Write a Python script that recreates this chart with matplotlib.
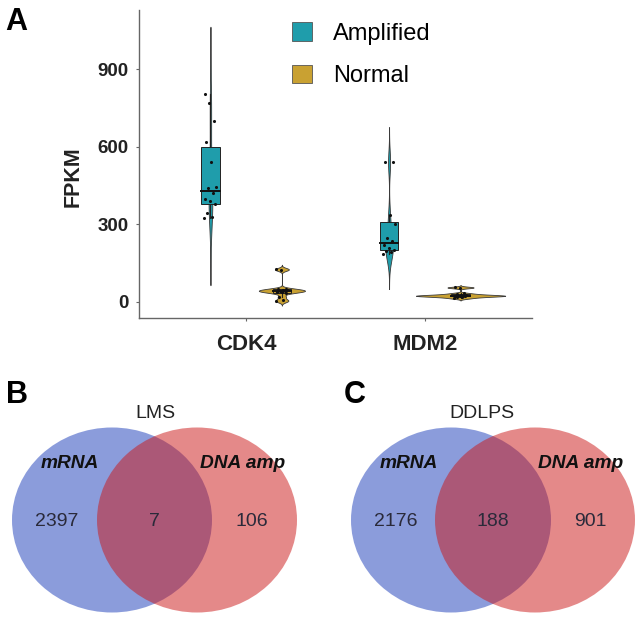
import numpy as np
import matplotlib
matplotlib.use("Agg")
import matplotlib.pyplot as plt
from matplotlib.patches import Ellipse, Patch, Rectangle

plt.rcParams['font.family'] = ['Liberation Sans', 'DejaVu Sans']

# ---------------- data ----------------
genes = ['CDK4', 'MDM2']
groups = ['Amplified', 'Normal']
cdk4_amp = [326, 330, 345, 378, 390, 399, 420, 440, 446, 543, 620, 700, 771, 804]
cdk4_norm = [2, 8, 20, 34, 38, 40, 42, 43, 45, 47, 49, 52, 124, 128]
mdm2_amp = [186, 195, 199, 200, 209, 222, 236, 249, 302, 337, 541, 541]
mdm2_norm = [14, 18, 20, 22, 23, 24, 24, 25, 26, 28, 30, 34, 55, 57]
y_ticks = [0, 300, 600, 900]

venn_titles = ['LMS', 'DDLPS']
venn_set_labels = ['mRNA', 'DNA amp']
lms_counts = [2397, 7, 106]
ddlps_counts = [2176, 188, 901]

# ---------------- style ----------------
group_colors = {'Amplified': '#1f9dab', 'Normal': '#c9a132'}
venn_colors = ['#193bb9', '#cb1515']
dodge = 0.2
box_w = 0.105
max_half = 0.25

W, H = 640, 624
fig = plt.figure(figsize=(W / 100, H / 100), dpi=100)


def fx(px):
    return px / W


def fy(py):
    return 1 - py / H


# ---------------- panel A ----------------
ax = fig.add_axes([fx(139), fy(318), fx(532) - fx(139), fy(10) - fy(318)])

series = {('CDK4', 'Amplified'): cdk4_amp, ('CDK4', 'Normal'): cdk4_norm,
          ('MDM2', 'Amplified'): mdm2_amp, ('MDM2', 'Normal'): mdm2_norm}


def bw_nrd0(x):
    x = np.asarray(x, float)
    sd = np.std(x, ddof=1)
    q75, q25 = np.percentile(x, [75, 25])
    lo = min(sd, (q75 - q25) / 1.34)
    if lo <= 0:
        lo = sd
    return 0.9 * lo * len(x) ** -0.2


def kde(x):
    x = np.asarray(x, float)
    bw = bw_nrd0(x)
    g = np.linspace(x.min() - 3 * bw, x.max() + 3 * bw, 512)
    d = np.exp(-0.5 * ((g[:, None] - x[None, :]) / bw) ** 2).sum(1) / (len(x) * bw * np.sqrt(2 * np.pi))
    return g, d


dens = {k: kde(v) for k, v in series.items()}
dmax = max(d.max() for g, d in dens.values())

for gi, gene in enumerate(genes):
    for si, grp in enumerate(groups):
        vals = np.asarray(series[(gene, grp)], float)
        pos = gi + 1 + (-dodge if si == 0 else dodge)
        col = group_colors[grp]
        g, d = dens[(gene, grp)]
        hw = max_half * d / dmax
        ax.fill_betweenx(g, pos - hw, pos + hw, facecolor=col, edgecolor='#3a3a3a',
                         linewidth=0.6, zorder=2)
        q1, med, q3 = np.percentile(vals, [25, 50, 75])
        iqr = q3 - q1
        lo = vals[vals >= q1 - 1.5 * iqr].min()
        hi = vals[vals <= q3 + 1.5 * iqr].max()
        ax.plot([pos, pos], [q3, hi], color='#222222', lw=0.8, zorder=3)
        ax.plot([pos, pos], [lo, q1], color='#222222', lw=0.8, zorder=3)
        ax.add_patch(Rectangle((pos - box_w / 2, q1), box_w, q3 - q1, facecolor=col,
                               edgecolor='#222222', lw=0.7, zorder=3))
        ax.plot([pos - box_w / 2, pos + box_w / 2], [med, med], color='#111111', lw=1.4, zorder=4)
        n = len(vals)
        jit = (((np.arange(n) * 0.618034) % 1.0) - 0.5) * 0.07
        ax.scatter(pos + jit, vals, s=5, color='#111111', zorder=5, linewidths=0)

ax.set_xlim(0.4, 2.6)
ax.set_ylim(-62, 1130)
ax.set_xticks([1, 2], genes, fontsize=16, fontweight='bold')
ax.set_yticks(y_ticks, [str(v) for v in y_ticks], fontsize=13.5, fontweight='bold')
for s in ['top', 'right']:
    ax.spines[s].set_visible(False)
for s in ['left', 'bottom']:
    ax.spines[s].set_color('#666666')
    ax.spines[s].set_linewidth(1.0)
ax.tick_params(axis='y', length=2.5, width=0.8, color='#666666', pad=5, labelcolor='#222222')
ax.tick_params(axis='x', length=2.5, width=0.8, color='#666666', pad=9, labelcolor='#222222')
ax.set_facecolor('none')

fig.text(fx(73), fy(177), 'FPKM', rotation=90, fontsize=15.5, fontweight='bold',
         ha='center', va='center', color='#222222')
fig.text(fx(5), fy(22), 'A', fontsize=22, fontweight='bold', ha='left', va='center')

handles = [Patch(facecolor=group_colors[g], edgecolor='#555555', lw=0.6) for g in groups]
fig.legend(handles, groups, loc='upper left', bbox_to_anchor=(fx(292), fy(22)),
           frameon=False, fontsize=17, handlelength=0.85, handleheight=0.85,
           handletextpad=0.9, labelspacing=0.85, borderpad=0, borderaxespad=0)

# ---------------- panels B, C ----------------
av = fig.add_axes([0, 0, 1, 1], zorder=-1)
av.set_xlim(0, W)
av.set_ylim(H, 0)
av.axis('off')

venn_layout = [
    dict(letter='B', letter_x=6, title_x=155, left_cx=112, right_cx=197, counts=lms_counts),
    dict(letter='C', letter_x=344, title_x=482, left_cx=451, right_cx=535, counts=ddlps_counts),
]
cy, ew, eh = 520, 200, 185
for title, lay in zip(venn_titles, venn_layout):
    av.add_patch(Ellipse((lay['left_cx'], cy), ew, eh, facecolor=venn_colors[0], alpha=0.5, lw=0))
    av.add_patch(Ellipse((lay['right_cx'], cy), ew, eh, facecolor=venn_colors[1], alpha=0.5, lw=0))
    av.text(lay['letter_x'], 395, lay['letter'], fontsize=22, fontweight='bold', ha='left', va='center')
    av.text(lay['title_x'], 413, title, fontsize=14, ha='center', va='center', color='#222222')
    lx = lay['left_cx'] - 42
    rx = lay['right_cx'] + 46
    av.text(lx, 463, venn_set_labels[0], fontsize=13.8, fontweight='bold', fontstyle='italic',
            ha='center', va='center', color='#111111')
    av.text(rx, 463, venn_set_labels[1], fontsize=13.8, fontweight='bold', fontstyle='italic',
            ha='center', va='center', color='#111111')
    mid = (lay['left_cx'] + lay['right_cx']) / 2
    for xx, c in zip([lay['left_cx'] - 55, mid, lay['right_cx'] + 55], lay['counts']):
        av.text(xx, 522, str(c), fontsize=14, ha='center', va='center', color='#2a2a3a')

fig.savefig('out.png', dpi=100)
